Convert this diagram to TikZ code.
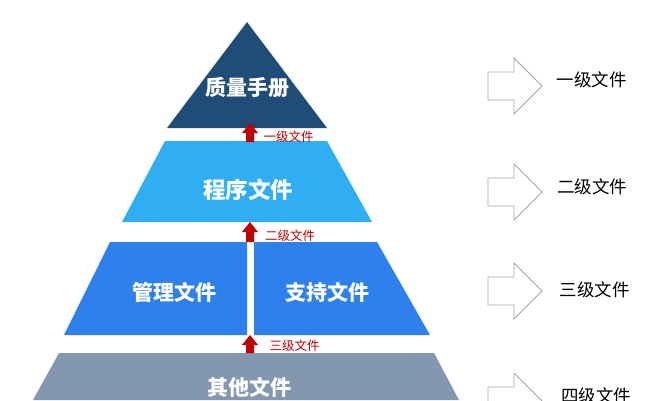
\documentclass[tikz,border=0pt]{standalone}
\usepackage{fontspec}
\setmainfont{Noto Sans CJK SC}
\definecolor{navy}{HTML}{1F4D78}
\definecolor{skyb}{HTML}{30AEF3}
\definecolor{midb}{HTML}{2E80EC}
\definecolor{slate}{HTML}{8497B0}
\definecolor{darkred}{HTML}{C00000}
\definecolor{outl}{HTML}{A6A6A6}
\begin{document}
\begin{tikzpicture}[x=1pt,y=-1pt,
  wtext/.style={text=white,font=\fontsize{21}{24}\selectfont\bfseries,inner sep=0pt},
  rtext/.style={text=darkred,font=\fontsize{12.5}{14}\selectfont,inner sep=0pt},
  ktext/.style={text=black,font=\fontsize{17.5}{20}\selectfont,inner sep=0pt},
  harrow/.pic={\draw[outl,fill=white,line width=0.8pt,line join=miter]
     (-54,-14) -- (-28,-14) -- (-28,-28) -- (0,0) -- (-28,28) -- (-28,14) -- (-54,14) -- cycle;},
]
\useasboundingbox (0,0) rectangle (651,400);
% pyramid layers
\fill[navy] (247,22) -- (327,128) -- (167,128) -- cycle;
\fill[skyb] (165,141) -- (327,141) -- (372,222) -- (122,222) -- cycle;
\fill[midb] (110,242) -- (247,242) -- (247,335) -- (64,335) -- cycle;
\fill[midb] (254,242) -- (377,242) -- (430,335) -- (254,335) -- cycle;
\fill[slate] (59,353) -- (434,353) -- (459,400) -- (33,400) -- cycle;
% red arrows
\coordinate (t1) at (250,123); \coordinate (b1) at (250,142);
\coordinate (t2) at (250,222); \coordinate (b2) at (250,242);
\coordinate (t3) at (250,335); \coordinate (b3) at (250,353);
\foreach \t/\b in {t1/b1,t2/b2,t3/b3}{
  \fill[darkred] (\t) -- ([shift={(8,10)}]\t) -- ([shift={(4,10)}]\t) -- ([shift={(4,0)}]\b)
     -- ([shift={(-4,0)}]\b) -- ([shift={(-4,10)}]\t) -- ([shift={(-8,10)}]\t) -- cycle;
}
% layer texts
\node[wtext] (zl) at (247.5,88) {质量手册};
\node[wtext,font=\fontsize{22.5}{26}\selectfont\bfseries] (cx) at (248,190) {程序文件};
\node[wtext] (gl) at (174.5,292) {管理文件};
\node[wtext] (zc) at (327,292) {支持文件};
\node[wtext] (qt) at (249.5,387) {其他文件};
% red labels
\node[rtext] (r1) at (288.5,137) {一级文件};
\node[rtext] (r2) at (290,236) {二级文件};
\node[rtext] (r3) at (294.5,346) {三级文件};
% hollow arrows
\pic at (542,86) {harrow};
\pic at (542,192) {harrow};
\pic at (542,291) {harrow};
\pic at (542,401) {harrow};
% right labels
\node[ktext] (k1) at (591.5,80) {一级文件};
\node[ktext] (k2) at (592,187) {二级文件};
\node[ktext] (k3) at (594.5,290) {三级文件};
\node[ktext] (k4) at (596,396) {四级文件};
\end{tikzpicture}
\end{document}
